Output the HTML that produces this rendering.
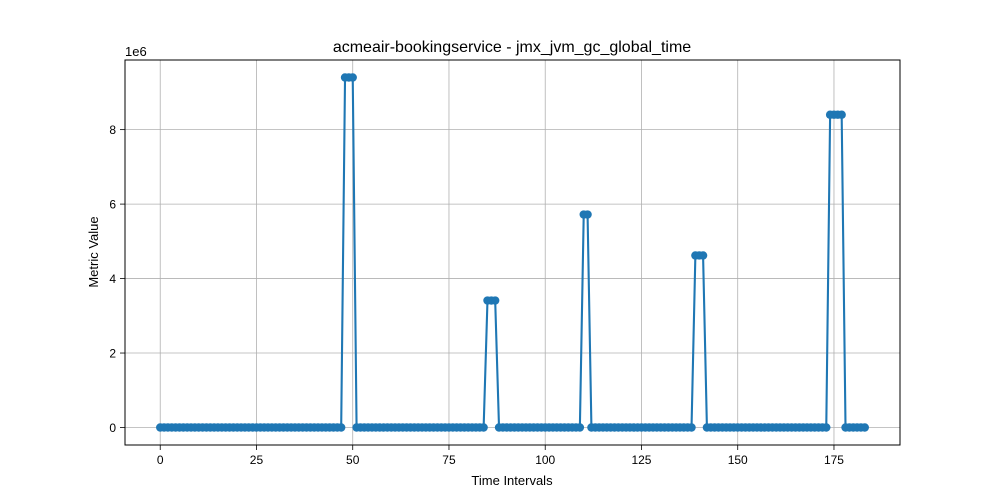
<!DOCTYPE html>
<html><head><meta charset="utf-8"><style>
html,body{margin:0;padding:0;background:#fff;}
svg{display:block;font-family:"Liberation Sans","DejaVu Sans",sans-serif;}
</style></head><body>
<svg id="chart" width="1000" height="500" viewBox="0 0 1000 500">
<rect x="0" y="0" width="1000" height="500" fill="#fff"/>
<g id="grid"></g>
<g id="series"></g>
<rect x="125" y="60" width="775" height="385" fill="none" stroke="#000" stroke-width="1"/>
<g id="ticks"></g>
<text x="512" y="52" text-anchor="middle" font-size="16">acmeair-bookingservice - jmx_jvm_gc_global_time</text>
<text x="512" y="485" text-anchor="middle" font-size="13">Time Intervals</text>
<text x="98" y="252" text-anchor="middle" font-size="13" transform="rotate(-90 98 252)">Metric Value</text>
<text x="125" y="56" font-size="13">1e6</text>
</svg>
<script>
const xTicks=[0,25,50,75,100,125,150,175];
const yTicks=[0,2,4,6,8];
const spikeIdx=[48,49,50,85,86,87,110,111,139,140,141,174,175,176,177];
const spikeVals=[9.4,9.4,9.4,3.41,3.41,3.41,5.72,5.72,4.62,4.62,4.62,8.4,8.4,8.4,8.4];
const nPoints=184;
const values=new Array(nPoints).fill(0);
spikeIdx.forEach((i,k)=>{values[i]=spikeVals[k];});

const L=125,R=900,T=60,B=445;
const xmin=-9.15,xmax=192.15,ymin=-0.47,ymax=9.87;
const X=v=>L+(v-xmin)/(xmax-xmin)*(R-L);
const Y=v=>B-(v-ymin)/(ymax-ymin)*(B-T);
const NS="http://www.w3.org/2000/svg";
const grid=document.getElementById('grid'),ticks=document.getElementById('ticks'),series=document.getElementById('series');
function mk(tag,attrs,parent){const e=document.createElementNS(NS,tag);for(const k in attrs)e.setAttribute(k,attrs[k]);parent.appendChild(e);return e;}

xTicks.forEach(t=>{
  const x=X(t);
  const g=mk('line',{x1:x,x2:x,y1:T,y2:B,stroke:'#b0b0b0','stroke-width':0.8},grid);
  
  
  const tk=mk('line',{x1:x,x2:x,y1:B,y2:B+5,stroke:'#000','stroke-width':0.8},ticks);
  
  
  const tx=mk('text',{x:x,y:B+19,'text-anchor':'middle','font-size':12},ticks);
  tx.textContent=t;
  
  
});
yTicks.forEach(t=>{
  const y=Y(t);
  const g=mk('line',{x1:L,x2:R,y1:y,y2:y,stroke:'#b0b0b0','stroke-width':0.8},grid);
  
  
  const tk=mk('line',{x1:L-5,x2:L,y1:y,y2:y,stroke:'#000','stroke-width':0.8},ticks);
  
  
  const tx=mk('text',{x:L-9,y:y+4.5,'text-anchor':'end','font-size':12},ticks);
  tx.textContent=t;
  
  
});
const pts=values.map((v,i)=>X(i).toFixed(2)+','+Y(v).toFixed(2)).join(' ');
const pl=mk('polyline',{points:pts,fill:'none',stroke:'#1f77b4','stroke-width':2.1,'stroke-linejoin':'round'},series);


values.forEach((v,i)=>{
  const c=mk('circle',{cx:X(i),cy:Y(v),r:4.2,fill:'#1f77b4'},series);
  
  
});
</script>
</body></html>
